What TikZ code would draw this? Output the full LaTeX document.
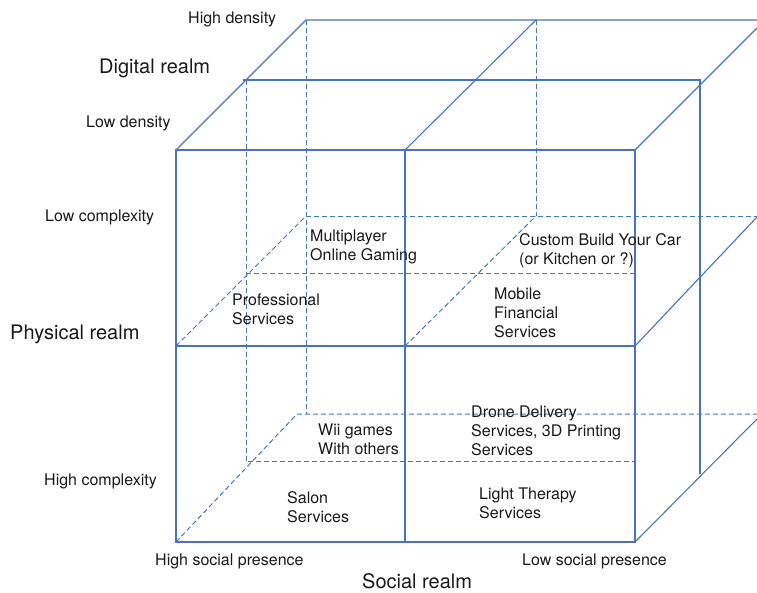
\documentclass[tikz,border=0pt]{standalone}
\usepackage{fontspec}
\setmainfont{TeX Gyre Heros}
\definecolor{edgeblue}{RGB}{72,114,196}
\begin{document}
\begin{tikzpicture}[x=1pt,y=1pt,
  edge/.style={draw=edgeblue,line width=1.1pt},
  hidden/.style={draw=edgeblue,line width=1pt,dash pattern=on 5pt off 3pt},
  lbl/.style={font=\fontsize{16}{19}\selectfont,text=black!90,inner sep=0pt,anchor=base west,align=left},
  realm/.style={font=\fontsize{20}{24}\selectfont,text=black!90,inner sep=0pt,anchor=base west}]
  \useasboundingbox (0,0) rectangle (757,-592);
  \clip (0,0) rectangle (757,-592);
  \coordinate (fa) at (176,-150);
  \coordinate (fb) at (405,-150);
  \coordinate (fc) at (635,-150);
  \coordinate (fd) at (176,-346);
  \coordinate (fm) at (405,-346);
  \coordinate (fe) at (635,-346);
  \coordinate (ff) at (176,-542);
  \coordinate (fg) at (405,-542);
  \coordinate (fh) at (635,-542);
  \coordinate (ba) at (306,-20);
  \coordinate (bb) at (536,-20);
  \coordinate (bc) at (757,-28);
  \coordinate (bd) at (306,-216);
  \coordinate (bm) at (536,-216);
  \coordinate (be) at (757,-217);
  \coordinate (bf) at (297,-414);
  \coordinate (bh) at (757,-419);
  \coordinate (ma) at (243,-80);
  \coordinate (mb) at (700,-80);
  \coordinate (mc) at (700,-474);
  \draw [hidden] (ba) -- (306,-414);
  \draw [hidden] (bb) -- (bm);
  \draw [hidden] (246,-80) -- (246,-462);
  \draw [hidden] (bd) -- (757,-216);
  \draw [hidden] (fd) -- (bd);
  \draw [hidden] (fm) -- (bm);
  \draw [hidden] (246,-273) -- (635,-273);
  \draw [hidden] (ff) -- (bf) -- (757,-414);
  \draw [hidden] (248,-461) -- (635,-461);
  \draw [edge] (fa) rectangle (fh);
  \draw [edge] (fb) -- (fg);
  \draw [edge] (fd) -- (fe);
  \draw [edge] (fa) -- (ba) -- (757,-20);
  \draw [edge] (fb) -- (bb);
  \draw [edge] (fc) -- (bc);
  \draw [edge] (fe) -- (be);
  \draw [edge] (fh) -- (bh);
  \draw [edge] (ma) -- (mb) -- (mc);
  \node [realm] (digital) at (99,-73) {Digital realm};
  \node [realm] (physical) at (10,-339) {Physical realm};
  \node [realm] (social) at (362,-588) {Social realm};
  \node [lbl] (highdens) at (188,-23) {High density};
  \node [lbl] (lowdens) at (86,-127) {Low density};
  \node [lbl] (lowcomp) at (45,-221) {Low complexity};
  \node [lbl] (highcomp) at (44,-485) {High complexity};
  \node [lbl] (highsoc) at (155,-565) {High social presence};
  \node [lbl] (lowsoc) at (522,-565) {Low social presence};
  \node [lbl] (gaming) at (310,-260) {Multiplayer\\Online Gaming};
  \node [lbl] (profserv) at (232,-324) {Professional\\Services};
  \node [lbl] (custom) at (519,-264) {Custom Build Your Car\\(or Kitchen or ?)};
  \node [lbl] (mobile) at (494,-337) {Mobile\\Financial\\Services};
  \node [lbl] (wii) at (318,-454) {Wii games\\With others};
  \node [lbl] (salon) at (287,-522) {Salon\\Services};
  \node [lbl] (drone) at (471,-455) {Drone Delivery\\Services, 3D Printing\\Services};
  \node [lbl] (light) at (479,-518) {Light Therapy\\Services};
\end{tikzpicture}
\end{document}
